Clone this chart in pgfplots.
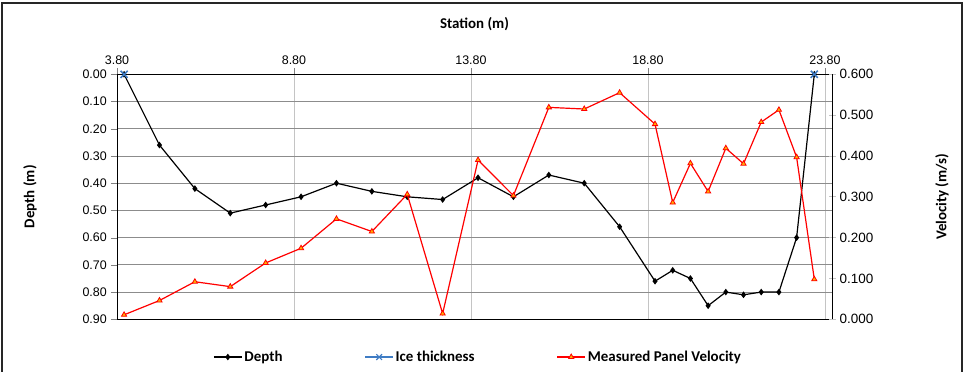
\documentclass[border=0pt]{standalone}
\usepackage{fontspec}
\setmainfont{Liberation Sans}
\newfontfamily\carlito{Carlito}
\usepackage{pgfplots}
\pgfplotsset{compat=1.18}

\definecolor{iceblue}{HTML}{3F7CC4}
\definecolor{hgrid}{HTML}{8C8C8C}
\definecolor{vgrid}{HTML}{C4C4C4}
\definecolor{trifill}{HTML}{FFB000}

\pgfplotsset{
  chartbox/.style={
    scale only axis, width=715bp, height=245bp,
    at={(0,0)}, anchor=south west,
    xmin=3.8, xmax=24.0,
    /pgf/number format/assume math mode=true,
    tick label style={font=\fontsize{12.5}{14}\selectfont},
    label style={font=\carlito\bfseries\fontsize{15}{17}\selectfont},
  },
}

\begin{document}
\begin{tikzpicture}
\useasboundingbox (-117bp,-52.7bp) rectangle (847bp,319.3bp);

\begin{axis}[
  chartbox,
  ymin=0, ymax=0.9, y dir=reverse,
  clip=false,
  xtick={3.8,8.8,13.8,18.8,23.8},
  ytick={0,0.1,0.2,0.3,0.4,0.5,0.6,0.7,0.8,0.9},
  xticklabel pos=upper, xtick pos=upper,
  ytick pos=left,
  tick align=outside,
  major tick length=6bp,
  xticklabel style={/pgf/number format/fixed, /pgf/number format/fixed zerofill, /pgf/number format/precision=2, inner sep=3bp},
  yticklabel style={/pgf/number format/fixed, /pgf/number format/fixed zerofill, /pgf/number format/precision=2, inner sep=4bp},
  xmajorgrids, ymajorgrids,
  x grid style={vgrid, line width=0.8bp},
  y grid style={hgrid, line width=0.8bp},
  axis line style={black, line width=0.8bp},
  xlabel={Station (m)},
  xlabel style={at={(axis description cs:0.5,1.204)}, anchor=center},
  ylabel={Depth (m)},
  ylabel style={at={(axis description cs:-0.1217,0.5)}, anchor=center},
]
\addplot[black, line width=1.2bp, mark=diamond*, mark size=2.4bp] coordinates {
  (4,0) (5,0.26) (6,0.42) (7,0.51) (8,0.48) (9,0.45) (10,0.40) (11,0.43)
  (12,0.45) (13,0.46) (14,0.38) (15,0.45) (16,0.37) (17,0.40) (18,0.56)
  (19,0.76) (19.5,0.72) (20,0.75) (20.5,0.85) (21,0.80) (21.5,0.81)
  (22,0.80) (22.5,0.80) (23,0.60) (23.5,0)
};
\addplot[iceblue, only marks, mark=x, mark size=5bp, line width=1.6bp] coordinates {
  (4,0) (23.5,0)
};
\end{axis}

\begin{axis}[
  chartbox,
  ymin=0, ymax=0.6,
  axis x line=none, axis y line*=right,
  ytick={0,0.1,0.2,0.3,0.4,0.5,0.6},
  tick align=center,
  major tick length=7bp,
  ytick style={vgrid, line width=0.8bp},
  yticklabel style={/pgf/number format/fixed, /pgf/number format/fixed zerofill, /pgf/number format/precision=3, font=\fontsize{13.5}{15}\selectfont, inner sep=4bp},
  axis line style={black, line width=0.8bp},
  ylabel={Velocity (m/s)},
  ylabel style={at={(axis description cs:1.1538,0.5)}, anchor=center},
  legend columns=3,
  legend cell align=left,
  legend style={at={(axis description cs:0.505,-0.154)}, anchor=center, draw=none, fill=none,
    font=\carlito\bfseries\fontsize{15}{17}\selectfont,
    /tikz/every even column/.append style={column sep=80bp}},
  legend image code/.code={\draw[mark repeat=2, mark phase=2, #1] plot coordinates {(0bp,0bp) (14bp,0bp) (28bp,0bp)};},
]
\addlegendimage{black, line width=1.2bp, mark=diamond*, mark size=2.4bp}
\addlegendentry{Depth}
\addlegendimage{iceblue, line width=1.2bp, mark=x, mark size=4bp}
\addlegendentry{Ice thickness}
\addplot[red, line width=1.2bp, mark=triangle*, mark size=3bp, mark options={draw=red, fill=trifill, line width=0.8bp}] coordinates {
  (4,0.011) (5,0.046) (6,0.092) (7,0.080) (8,0.138) (9,0.174) (10,0.246)
  (11,0.215) (12,0.306) (13,0.014) (14,0.390) (15,0.303) (16,0.519)
  (17,0.515) (18,0.555) (19,0.478) (19.5,0.286) (20,0.382) (20.5,0.313)
  (21,0.419) (21.5,0.381) (22,0.483) (22.5,0.513) (23,0.397) (23.5,0.098)
};
\addlegendentry{Measured Panel Velocity}
\end{axis}

\draw[line width=1.6bp, black!85] (-115bp,-60bp) -- (-115bp,316.5bp) -- (844.8bp,316.5bp) -- (844.8bp,-60bp);
\end{tikzpicture}
\end{document}
